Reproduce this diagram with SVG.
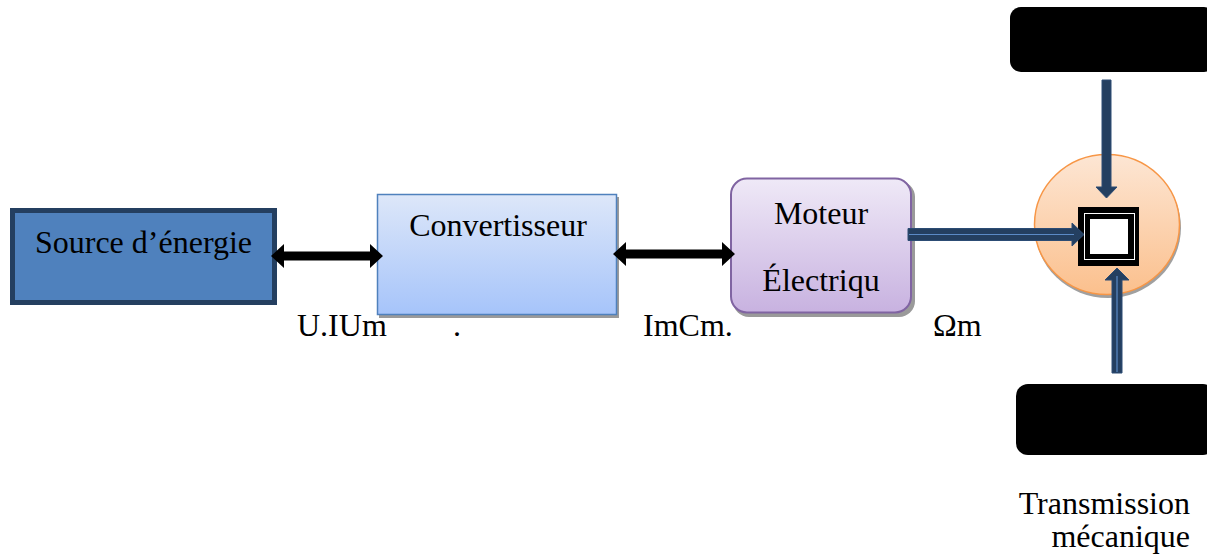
<svg xmlns="http://www.w3.org/2000/svg" width="1207" height="558" viewBox="0 0 1207 558">
<defs>
<linearGradient id="gConv" x1="0" y1="0" x2="0" y2="1"><stop offset="0" stop-color="#DDE7F9"/><stop offset="1" stop-color="#A6C4FA"/></linearGradient>
<linearGradient id="gMot" x1="0" y1="0" x2="0" y2="1"><stop offset="0" stop-color="#EFE9F7"/><stop offset="1" stop-color="#C8B2E0"/></linearGradient>
<linearGradient id="gCirc" x1="0" y1="0" x2="0" y2="1"><stop offset="0" stop-color="#FDE6D4"/><stop offset="1" stop-color="#FBC08D"/></linearGradient>
</defs>
<style>
.t{font-family:"Liberation Serif","Times New Roman",serif;font-size:32px;fill:#000}
.blk{fill:#000}
.nav{fill:#243F60;stroke:#2C4C74;stroke-width:1}
.hl{stroke:#5B8AC6;stroke-width:1.2}
.shadow{fill:#9A9A9A}
</style>
<g id="source">
<rect x="12.5" y="210.5" width="262" height="92" fill="#4F81BD" stroke="#243F60" stroke-width="5"/>
<text class="t" x="143.5" y="253" text-anchor="middle">Source d’énergie</text>
</g>
<g id="convertisseur">
<rect class="shadow" x="379" y="197" width="240" height="121"/>
<rect x="377.5" y="194.5" width="239" height="120" fill="url(#gConv)" stroke="#4F81BD" stroke-width="1.5"/>
<text class="t" x="498" y="236" text-anchor="middle">Convertisseur</text>
</g>
<g id="moteur">
<rect class="shadow" x="733" y="181" width="182" height="136" rx="16"/>
<rect x="731" y="178.5" width="180" height="134" rx="16" fill="url(#gMot)" stroke="#8064A2" stroke-width="2"/>
<text class="t" x="821" y="224" text-anchor="middle">Moteur</text>
<text class="t" x="821" y="291" text-anchor="middle">Électriqu</text>
</g>
<g id="transmission">
<ellipse cx="1108" cy="227.5" rx="73" ry="70.5" fill="#A0A0A0"/>
<ellipse cx="1107" cy="224.5" rx="72.5" ry="70" fill="url(#gCirc)" stroke="#F79646" stroke-width="1.5"/>
<rect x="1078" y="207" width="61" height="59" fill="#000"/>
<rect x="1084.5" y="213.5" width="50" height="46" fill="none" stroke="#fff" stroke-width="1"/>
<rect x="1090" y="219" width="38" height="35" fill="#fff"/>
</g>
<g id="roue-haut">
<rect x="1010" y="7" width="205" height="65" rx="11" fill="#000"/>
</g>
<g id="roue-bas">
<rect x="1016" y="384" width="199" height="71" rx="12" fill="#000"/>
</g>
<g id="labels">
<text class="t" x="297" y="336">U.IUm</text>
<text class="t" x="453" y="336">.</text>
<text class="t" x="643" y="336">ImCm.</text>
<text class="t" x="933" y="336">Ωm</text>
<text class="t" x="1190" y="514" text-anchor="end">Transmission</text>
<text class="t" x="1190" y="547" text-anchor="end">mécanique</text>
</g>
<g id="connectors">
<polygon class="blk" points="271,256 284,244 284,251.5 370,251.5 370,244 383,256 370,268 370,260.5 284,260.5 284,268"/>
<polygon class="blk" points="613,254 626,242 626,249.5 722,249.5 722,242 735,254 722,266 722,258.5 626,258.5 626,266"/>
<polygon class="nav" points="908,228.5 1072,228.5 1072,223 1084,234.5 1072,246 1072,240.5 908,240.5"/>
<line class="hl" x1="909" y1="234.5" x2="1074" y2="234.5"/>
<polygon class="nav" points="1102,80 1111,80 1111,187 1117,187 1106.5,198 1096,187 1102,187"/>
<polygon class="nav" points="1112,373 1122,373 1122,280 1129,280 1117,268 1105,280 1112,280"/>
<line class="hl" x1="1117" y1="372" x2="1117" y2="276"/>
</g>
</svg>
